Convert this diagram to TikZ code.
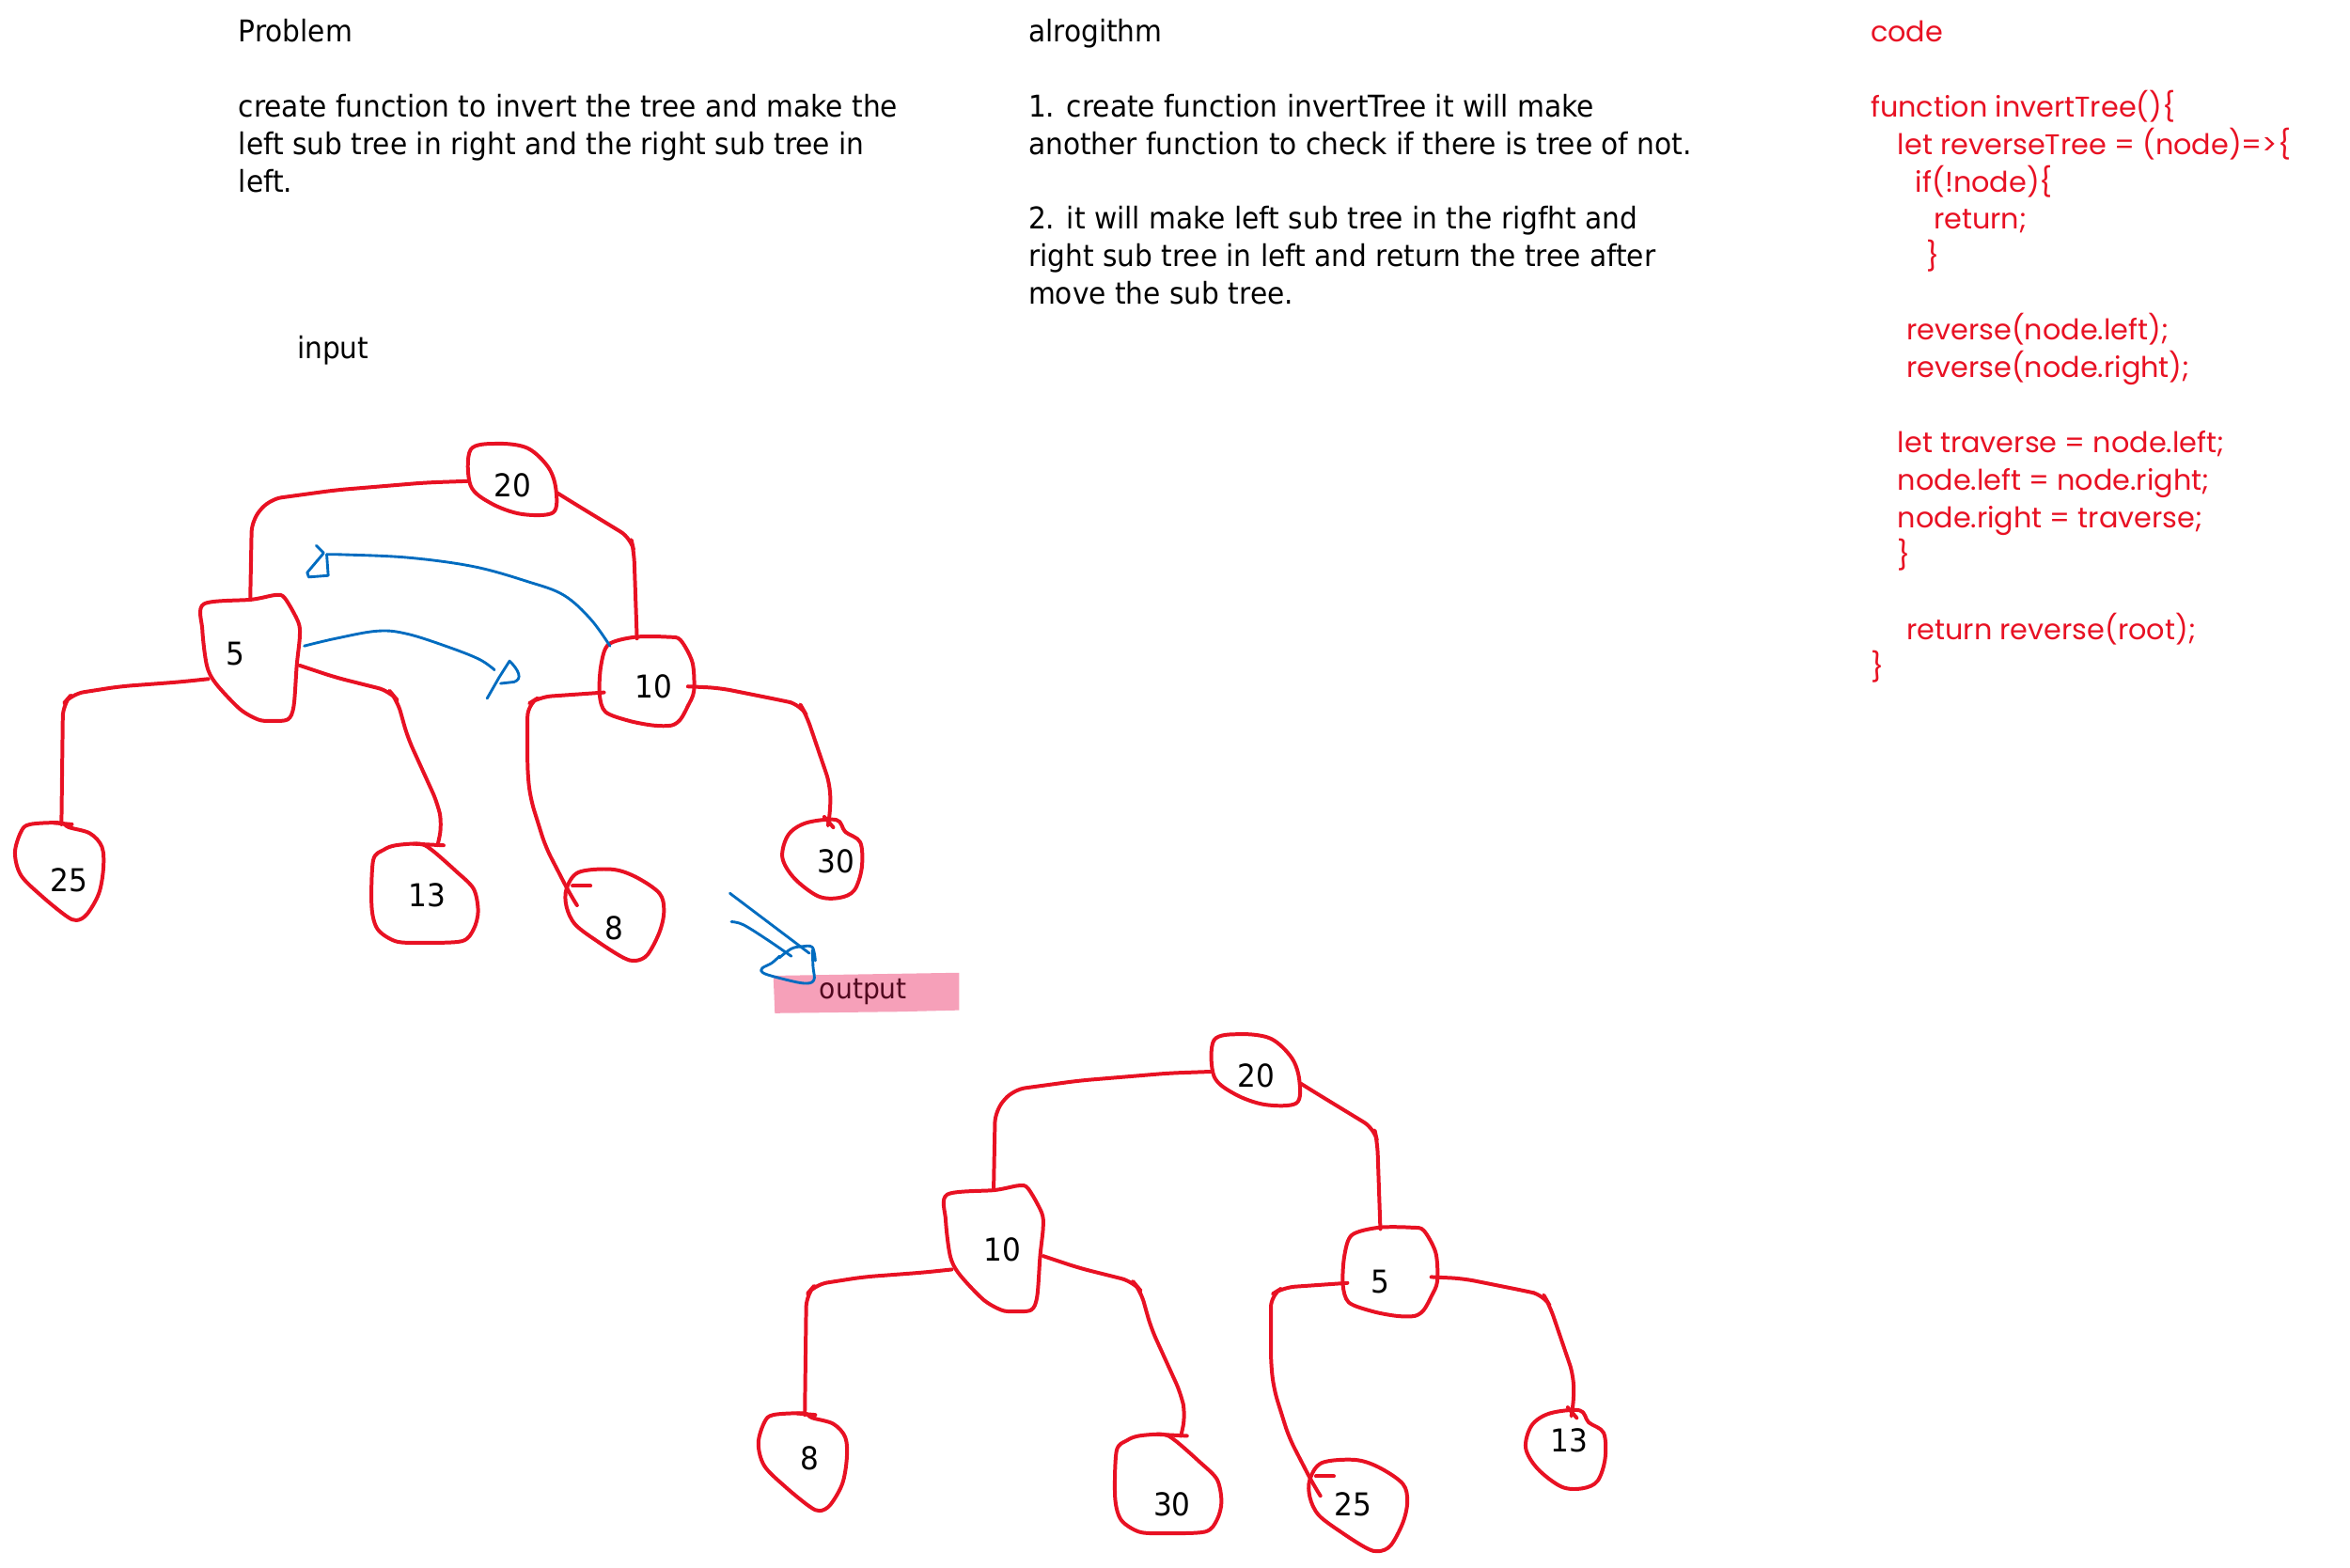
\documentclass[tikz,border=0pt]{standalone}
\usepackage{fontspec}
\setmainfont{DejaVu Sans}[FakeStretch=0.93]
\newfontfamily\codefont{Poppins}
\definecolor{inkred}{RGB}{232,17,35}
\definecolor{inkblue}{RGB}{0,108,192}
\definecolor{marker}{RGB}{246,160,185}
\definecolor{markertext}{RGB}{80,8,30}

\tikzset{
  txt/.style={anchor=west, inner sep=0pt, font=\fontsize{20}{25}\selectfont,
              text height=15pt, text depth=5pt},
  codeline/.style={txt, text=inkred, font=\codefont\fontsize{19}{25}\selectfont},
  lbl/.style={inner sep=0pt, font=\fontsize{21}{21}\selectfont},
  redpen/.style={draw=inkred, line width=2.5pt, line cap=round, line join=round},
  bluepen/.style={draw=inkblue, line width=1.8pt, line cap=round, line join=round},
  link/.style={redpen, rounded corners=8pt},
}

% one hand-drawn binary tree outline (blobs, links and ticks), names prefixed by #1
\newcommand\drawtreeshape[1]{%
  % link end points
  \coordinate (#1rw) at (312,321);
  \coordinate (#1re) at (372,329);
  \coordinate (#1ln) at (167,399);
  \coordinate (#1lw) at (139,453);
  \coordinate (#1le) at (200,444);
  \coordinate (#1rn) at (425,426);
  \coordinate (#1rnw) at (407,431);
  \coordinate (#1rwest) at (403,462);
  \coordinate (#1reast) at (459,458);
  \coordinate (#1lln) at (41,550);
  \coordinate (#1lrn) at (292,564);
  \coordinate (#1rln) at (385,604);
  \coordinate (#1rrn) at (553,548);
  % root
  \draw[redpen] plot[smooth cycle, tension=0.55] coordinates
    {(314,300) (332,296) (352,299) (366,312) (371,327) (369,342) (348,343) (328,336) (314,324)};
  % left child
  \draw[redpen] plot[smooth cycle, tension=0.5] coordinates
    {(136,403) (168,400) (184,397) (190,399) (199,415) (200,425) (198,444) (196,471)
     (192,480) (180,481) (172,480) (160,473) (144,456) (138,444) (135,420)};
  % right child
  \draw[redpen] plot[smooth cycle, tension=0.5] coordinates
    {(406,430) (424,425) (446,425) (454,427) (462,442) (463,461) (459,471) (454,480)
     (448,484) (436,484) (420,481) (404,475) (400,463) (401,444)};
  % leaves
  \draw[redpen] plot[smooth cycle, tension=0.55] coordinates
    {(20,550) (40,549) (46,552) (60,556) (68,565) (69,579) (66,596) (58,610) (51,614)
     (44,611) (28,598) (14,584) (10,569) (14,555)};
  \draw[redpen] plot[smooth cycle, tension=0.5] coordinates
    {(264,564) (280,563) (288,567) (304,581) (316,593) (319,608) (316,620) (308,628)
     (280,629) (264,628) (252,620) (248,605) (249,574) (256,567)};
  \draw[redpen] plot[smooth cycle, tension=0.55] coordinates
    {(386,582) (408,580) (424,585) (440,596) (443,608) (440,622) (432,637) (424,641)
     (416,639) (400,629) (384,617) (378,605) (378,593)};
  \draw[redpen] plot[smooth cycle, tension=0.55] coordinates
    {(538,549) (558,547) (564,555) (574,562) (575,579) (570,594) (560,599) (546,598)
     (530,586) (522,572) (526,557)};
  % links
  \draw[link] (#1rw) -- (284,322) -- (224,327) -- (180,333) -- (168,347) -- (#1ln);
  \draw[link] (#1re) -- (380,334) -- (421,359) -- (423,368) -- (#1rn);
  \draw[link] (#1lw) -- (120,455) -- (80,458) -- (48,463) -- (42,470) -- (#1lln);
  \draw[link] (#1le) -- (224,452) -- (260,461) -- (265,467) -- (272,492) -- (292,536)
    -- (295,550) -- (#1lrn);
  \draw[link] (#1rwest) -- (360,465) -- (352,470) -- (352,516) -- (354,533) -- (364,565)
    -- (380,596) -- (#1rln);
  \draw[link] (#1reast) -- (480,459) -- (520,467) -- (534,470) -- (538,477) -- (554,524)
    -- (554,543) -- (#1rrn);
  % ticks where links meet the leaves
  \draw[redpen] (36,549) -- (48,550);
  \draw[redpen] (276,563) -- (296,564);
  \draw[redpen] (382,591) -- (394,591);
  \draw[redpen] (550,545) -- (556,552);
}

\begin{document}
\begin{tikzpicture}[x=1pt, y=-1pt]
  \fill[white] (0,0) rectangle (1568,1046);
  \useasboundingbox (0,0) rectangle (1568,1046);

  % problem statement
  \node[txt] (p0) at (159,23)  {Problem};
  \node[txt] (p1) at (159,73)  {create function to invert the tree and make the};
  \node[txt] (p2) at (159,98)  {left sub tree in right and the right sub tree in};
  \node[txt] (p3) at (159,123) {left.};
  \node[txt] (inp) at (198,234) {input};

  % algorithm
  \node[txt] (a0) at (686,23)  {alrogithm};
  \node[txt] (a1) at (686,73)  {1. create function invertTree it will make};
  \node[txt] (a2) at (686,98)  {another function to check if there is tree of not.};
  \node[txt] (a3) at (686,148) {2. it will make left sub tree in the rigfht and};
  \node[txt] (a4) at (686,173) {right sub tree in left and return the tree after};
  \node[txt] (a5) at (686,198) {move the sub tree.};

  % code
  \node[codeline] (c0)  at (1248,23)  {code};
  \node[codeline] (c1)  at (1248,73)  {function invertTree()\{};
  \node[codeline] (c2)  at (1266,98)  {let reverseTree = (node)=>\{};
  \node[codeline] (c3)  at (1278,123) {if(!node)\{};
  \node[codeline] (c4)  at (1290,148) {return;};
  \node[codeline] (c5)  at (1285,173) {\}};
  \node[codeline] (c6)  at (1272,222) {reverse(node.left);};
  \node[codeline] (c7)  at (1272,247) {reverse(node.right);};
  \node[codeline] (c8)  at (1266,297) {let traverse = node.left;};
  \node[codeline] (c9)  at (1266,322) {node.left = node.right;};
  \node[codeline] (c10) at (1266,347) {node.right = traverse;};
  \node[codeline] (c11) at (1266,372) {\}};
  \node[codeline] (c12) at (1272,422) {return reverse(root);};
  \node[codeline] (c13) at (1248,447) {\}};

  % input tree
  \drawtreeshape{in-}
  \node[lbl] (i20) at (342,324) {20};
  \node[lbl] (i5)  at (157,436) {5};
  \node[lbl] (i10) at (436,458) {10};
  \node[lbl] (i25) at (46,587)  {25};
  \node[lbl] (i13) at (285,597) {13};
  \node[lbl] (i8)  at (410,619) {8};
  \node[lbl] (i30) at (558,575) {30};

  % swap arrows
  \draw[bluepen] plot[smooth, tension=0.6] coordinates
    {(in-rnw) (394,413) (376,397) (352,388) (316,378) (272,372) (228,370) (218,370)};
  \draw[bluepen] (211,364) -- (216,369) -- (205,382) -- (206,385) -- (219,384) -- (218,370);
  \draw[bluepen] plot[smooth, tension=0.6] coordinates
    {(203,431) (224,426) (252,421) (272,423) (300,432) (320,440) (330,447)};
  \draw[bluepen] (325,466) -- (333,452) -- (340,441) .. controls (346,447) and (349,453) .. (343,455)
    -- (334,456);

  % output marker
  \fill[marker] (516,651) -- (640,649) -- (640,674) -- (600,675) -- (517,676) -- cycle;
  \node[inner sep=0pt, font=\fontsize{19}{19}\selectfont, text=markertext] (outlbl) at (576,662) {output};
  \coordinate (arrA) at (487,596);
  \coordinate (arrB) at (488,615);
  \draw[bluepen] (arrA) -- (540,636);
  \draw[bluepen] plot[smooth, tension=0.6] coordinates {(arrB) (496,617) (512,627) (528,638)};
  \draw[bluepen] plot[smooth, tension=0.6] coordinates
    {(520,639) (528,633) (535,631.5) (542,632) (544,641)};
  \draw[bluepen] plot[smooth, tension=0.6] coordinates
    {(542,634) (542.5,645) (543,654) (536,656) (518,652) (509,649) (508.5,646) (515,642.5) (520,638)};

  % output tree
  \begin{scope}[shift={(496,394)}]
    \drawtreeshape{out-}
  \end{scope}
  \node[lbl] (o20) at (838,718)  {20};
  \node[lbl] (o10) at (669,834)  {10};
  \node[lbl] (o5)  at (921,855)  {5};
  \node[lbl] (o8)  at (540,973)  {8};
  \node[lbl] (o30) at (782,1004) {30};
  \node[lbl] (o25) at (903,1004) {25};
  \node[lbl] (o13) at (1047,961) {13};
\end{tikzpicture}
\end{document}
